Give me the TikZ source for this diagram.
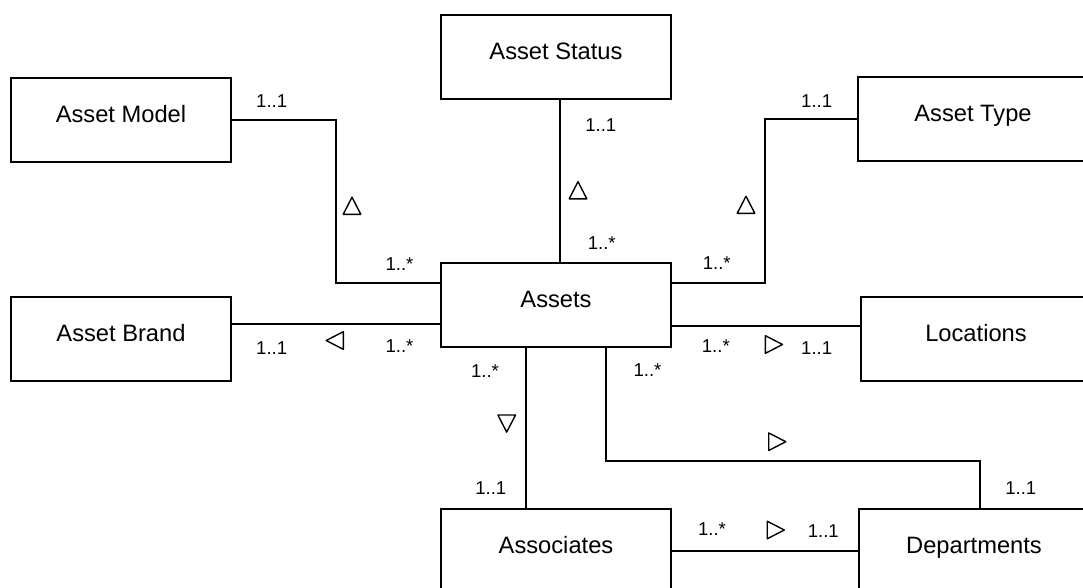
\documentclass[tikz,border=0pt]{standalone}
\usepackage{fontspec}
\setmainfont{Liberation Sans}
\begin{document}
\begin{tikzpicture}[x=1pt,y=-1pt,
  entity/.style={draw, line width=1.9pt, minimum height=84pt, inner sep=0pt,
    font=\fontsize{23.7}{26}\selectfont, text height=10pt, text depth=6pt},
  wide/.style={minimum width=230pt},
  narrow/.style={minimum width=220pt},
  link/.style={line width=1.9pt},
  mult/.style={inner sep=0pt, font=\fontsize{18.6}{20}\selectfont,
    text height=13.3pt, text depth=0pt},
  tri/.pic={\draw[line width=1.4pt, line join=round]
    (-8.8,8.3) -- (8.8,8.3) -- (0,-8.8) -- cycle;}
]
\useasboundingbox (0,0) rectangle (1083,587);
\fill[white] (0,0) rectangle (1083,587);
\clip (0,0) rectangle (1083,587);

% entities
\node[entity,narrow] (AM) at (121,120) {Asset Model};
\node[entity,narrow] (AB) at (121,339) {Asset Brand};
\node[entity,wide]   (AS) at (556,57)  {Asset Status};
\node[entity,wide]   (A)  at (556,305) {Assets};
\node[entity,wide]   (AT) at (973,119) {Asset Type};
\node[entity,wide]   (L)  at (976,339) {Locations};
\node[entity,wide]   (AC) at (556,551) {Associates};
\node[entity,wide]   (D)  at (974,551) {Departments};

% bend points and rows/columns of the connectors
\coordinate (mBend)  at (336,283);
\coordinate (sCol)   at (560,0);
\coordinate (tBend)  at (765,283);
\coordinate (bRow)   at (0,324);
\coordinate (lRow)   at (0,326);
\coordinate (cCol)   at (526,0);
\coordinate (dBendA) at (606,461);
\coordinate (dBendB) at (980,461);

% associations
\draw[link] (AM.east) -| (mBend) -- (mBend -| A.west);
\draw[link] (AS.south -| sCol) -- (A.north -| sCol);
\draw[link] (AT.west) -| (tBend) -- (tBend -| A.east);
\draw[link] (AB.east |- bRow) -- (A.west |- bRow);
\draw[link] (A.east |- lRow) -- (L.west |- lRow);
\draw[link] (A.south -| cCol) -- (AC.north -| cCol);
\draw[link] (A.south -| dBendA) -- (dBendA) -- (dBendB) -- (D.north -| dBendB);
\draw[link] (AC.east) -- (D.west);

% reading-direction triangles
\pic at (352,206) {tri};
\pic at (578,190.5) {tri};
\pic at (746,205) {tri};
\pic[rotate=90] at (335,340.5) {tri};
\pic[rotate=-90] at (773.7,344.5) {tri};
\pic[rotate=180] at (506.7,423.3) {tri};
\pic[rotate=-90] at (777,441.7) {tri};
\pic[rotate=-90] at (775.5,530) {tri};

% multiplicities
\node[mult] (mModelOne)  at (271.7,101)   {1..1};
\node[mult] (mModelMany) at (399.5,264)   {1..*};
\node[mult] (mStatOne)   at (600.8,124.5) {1..1};
\node[mult] (mStatMany)  at (601.7,242.5) {1..*};
\node[mult] (mTypeOne)   at (816.7,101)   {1..1};
\node[mult] (mTypeMany)  at (716.7,263)   {1..*};
\node[mult] (mBrandOne)  at (271.7,347.5) {1..1};
\node[mult] (mBrandMany) at (399.5,345.8) {1..*};
\node[mult] (mLocMany)   at (715.8,345.8) {1..*};
\node[mult] (mLocOne)    at (816.7,347.5) {1..1};
\node[mult] (mAscMany)   at (485,370.8)   {1..*};
\node[mult] (mDepMany)   at (647.5,369.5) {1..*};
\node[mult] (mAscOne)    at (490.8,487.5) {1..1};
\node[mult] (mDepOne)    at (1020.8,487.5) {1..1};
\node[mult] (mAdMany)    at (712,529)     {1..*};
\node[mult] (mAdOne)     at (823.3,530.5) {1..1};
\end{tikzpicture}
\end{document}
